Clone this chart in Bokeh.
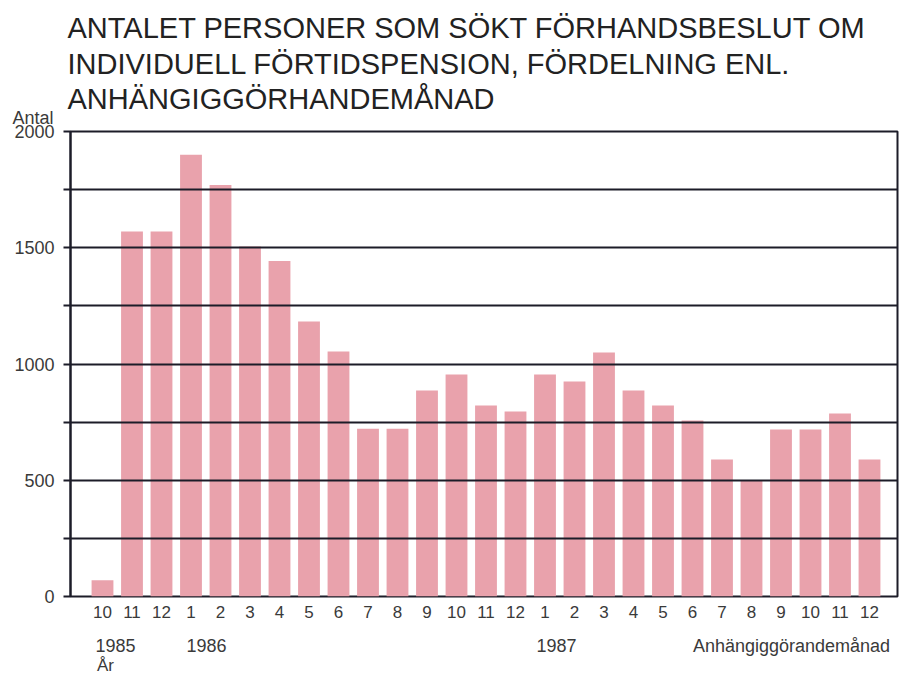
from bokeh.plotting import figure
from bokeh.models import Range1d, FixedTicker, ColumnDataSource, Title, LinearAxis
from bokeh.embed import file_html
from bokeh.resources import INLINE

# ---- data ----
months = ["10", "11", "12",
          "1", "2", "3", "4", "5", "6", "7", "8", "9", "10", "11", "12",
          "1", "2", "3", "4", "5", "6", "7", "8", "9", "10", "11", "12"]
values = [70, 1570, 1570,
          1900, 1770, 1505, 1443, 1183, 1054, 722, 722, 886, 955, 821, 796,
          955, 925, 1049, 886, 821, 757, 589, 499, 718, 718, 787, 589]
years = ["1985", "1986", "1987"]
y_ticks = [0, 250, 500, 750, 1000, 1250, 1500, 1750, 2000]
y_labels = {0: "0", 500: "500", 1000: "1000", 1500: "1500", 2000: "2000"}

title_lines = ["ANTALET PERSONER SOM SÖKT FÖRHANDSBESLUT OM",
               "INDIVIDUELL FÖRTIDSPENSION, FÖRDELNING ENL.",
               "ANHÄNGIGGÖRHANDEMÅNAD"]
y_title = "Antal"
year_word = "År"
x_title = "Anhängiggörandemånad"

idx = list(range(len(values)))
src = ColumnDataSource(dict(x=idx, top=values))

# ---- layout helpers (page pixels -> x data) ----
PX_X0, PX_STEP = 102.0, 29.5   # pixel of first bar centre, spacing


def fx(px):
    return (px - PX_X0) / PX_STEP


FONT = "Liberation Sans"
TXT = "#3a3a3a"
INK = "#1c1c28"

p = figure(width=900, height=676, frame_width=827, frame_height=465,
           min_border_left=70, min_border_right=3, min_border_top=131,
           min_border_bottom=80,
           x_range=Range1d(fx(70), fx(897)), y_range=Range1d(0, 2000),
           output_backend="svg", toolbar_location=None, title_location=None)

p.vbar(x="x", top="top", width=0.74, bottom=0, source=src,
       fill_color="#e9a2ac", line_color=None)

p.outline_line_color = INK
p.outline_line_width = 2
p.background_fill_color = "white"
p.border_fill_color = "white"

# grids
p.xgrid.grid_line_color = None
p.ygrid.ticker = FixedTicker(ticks=y_ticks)
p.ygrid.grid_line_color = INK
p.ygrid.grid_line_width = 2
p.ygrid.level = "overlay"

# y axis
ya = p.yaxis[0]
ya.ticker = FixedTicker(ticks=y_ticks)
ya.major_label_overrides = {t: y_labels.get(t, "") for t in y_ticks}
ya.axis_line_color = INK
ya.axis_line_width = 2
ya.major_tick_line_color = INK
ya.major_tick_line_width = 2
ya.major_tick_out = 7
ya.major_tick_in = 0
ya.minor_tick_line_color = None
ya.major_label_standoff = 9
ya.major_label_text_font = FONT
ya.major_label_text_font_size = "18px"
ya.major_label_text_color = TXT

# x axis: months
xa = p.xaxis[0]
xa.ticker = FixedTicker(ticks=idx)
xa.major_label_overrides = {i: m for i, m in zip(idx, months)}
xa.axis_line_color = None
xa.major_tick_line_color = None
xa.minor_tick_line_color = None
xa.major_tick_out = 0
xa.major_tick_in = 0
xa.major_label_standoff = 9
xa.major_label_text_font = FONT
xa.major_label_text_font_size = "17px"
xa.major_label_text_color = TXT

# second axis below: years and the axis word (label centres)
row_pos = [fx(115), fx(206), fx(556), fx(791)]
row_txt = years + [x_title]
ax2 = LinearAxis(ticker=FixedTicker(ticks=row_pos),
                 major_label_overrides={t: s for t, s in zip(row_pos, row_txt)},
                 axis_line_color=None, major_tick_line_color=None,
                 minor_tick_line_color=None, major_tick_out=0, major_tick_in=0,
                 major_label_standoff=15, major_label_text_font=FONT,
                 major_label_text_font_size="18px", major_label_text_color=TXT)
p.add_layout(ax2, "below")

# third axis below: "År"
ar_pos = [fx(105)]
ax3 = LinearAxis(ticker=FixedTicker(ticks=ar_pos),
                 major_label_overrides={ar_pos[0]: year_word},
                 axis_line_color=None, major_tick_line_color=None,
                 minor_tick_line_color=None, major_tick_out=0, major_tick_in=0,
                 major_label_standoff=-3, major_label_text_font=FONT,
                 major_label_text_font_size="17px", major_label_text_color=TXT)
p.add_layout(ax3, "below")

# titles above (added from the frame outward)
p.add_layout(Title(text=y_title, align="left", offset=-58, standoff=7,
                   text_font=FONT, text_font_size="18px", text_color=TXT,
                   text_font_style="normal"), "above")
title_standoffs = [-22, 26, -24]
for line, so in reversed(list(zip(title_lines, title_standoffs))):
    p.add_layout(Title(text=line, align="left", offset=-3, standoff=so,
                       text_font=FONT, text_font_size="29px",
                       text_color="#222222", text_font_style="normal"), "above")

open("out.html", "w").write(file_html(p, INLINE))
